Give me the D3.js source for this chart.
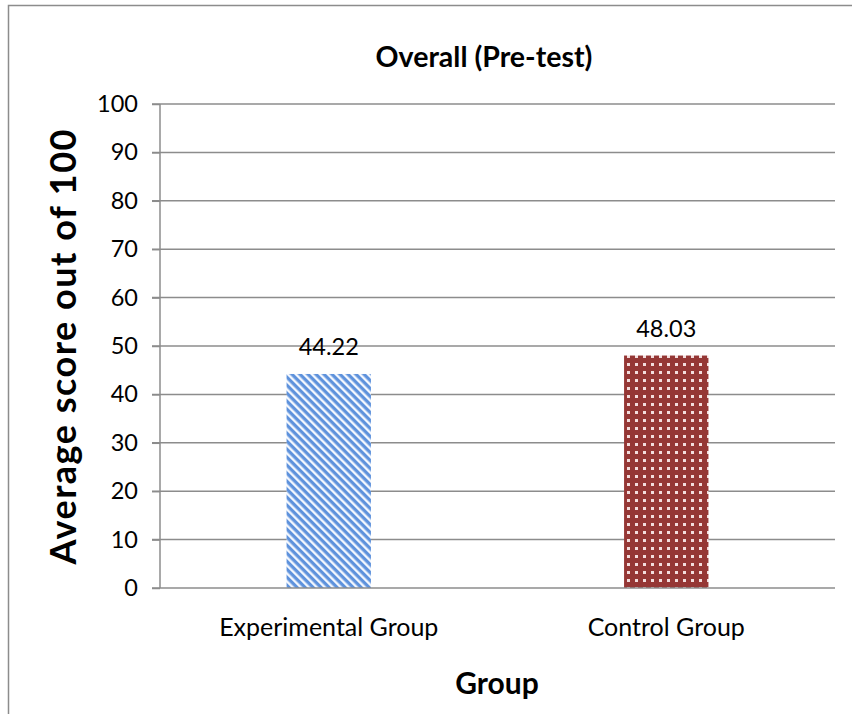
<!DOCTYPE html>
<html><head><meta charset="utf-8">
<script src="https://cdn.jsdelivr.net/npm/d3@7"></script>
<style>body{margin:0;background:#fff}svg{display:block}text{font-family:Lato,"Open Sans",sans-serif;fill:#000}</style>
</head><body><svg id="c" width="852" height="714"></svg>
<script>
const categories = ["Experimental Group", "Control Group"];
const values = [44.22, 48.03];
const valueLabels = ["44.22", "48.03"];
const yTicks = [0, 10, 20, 30, 40, 50, 60, 70, 80, 90, 100];
const title = "Overall (Pre-test)";
const xTitle = "Group";
const yTitle = "Average score out of 100";

const svg = d3.select("#c");
const L = 160, R = 835, T = 104, B = 588;

const defs = svg.append("defs");
const p1 = defs.append("pattern").attr("id","stripes").attr("patternUnits","userSpaceOnUse")
  .attr("width",5.66).attr("height",8).attr("patternTransform","rotate(-45)");
p1.append("rect").attr("width",5.66).attr("height",8).attr("fill","#5e92dc");
p1.append("rect").attr("width",2.4).attr("height",8).attr("fill","#f4f8fe");
const p2 = defs.append("pattern").attr("id","dots").attr("patternUnits","userSpaceOnUse")
  .attr("width",8).attr("height",8);
p2.append("rect").attr("width",8).attr("height",8).attr("fill","#953735");
p2.append("rect").attr("x",3).attr("y",3).attr("width",3).attr("height",3).attr("fill","#f3dede");

svg.append("rect").attr("x",8.5).attr("y",5.5).attr("width",900).attr("height",800)
  .attr("fill","none").attr("stroke","#8c8c8c").attr("stroke-width",1.5);

const y = d3.scaleLinear().domain([0,100]).range([B,T]);
const x = d3.scaleBand().domain(categories).range([L,R]).paddingInner(0.75).paddingOuter(0.375);

const grid = svg.append("g");
grid.selectAll("line").data(yTicks.filter(d=>d>0)).join("line")
  .attr("x1",L-8).attr("x2",R).attr("y1",d=>y(d)).attr("y2",d=>y(d))
  .attr("stroke","#8c8c8c").attr("stroke-width",1.5);

svg.selectAll("rect.bar").data(values).join("rect").attr("class","bar")
  .attr("x",(d,i)=>x(categories[i])).attr("width",x.bandwidth())
  .attr("y",d=>y(d)).attr("height",d=>B-y(d))
  .attr("fill",(d,i)=>i===0?"url(#stripes)":"url(#dots)");

const yAxis = svg.append("g").attr("transform",`translate(${L},0)`)
  .call(d3.axisLeft(y).tickValues(yTicks).tickSize(8).tickPadding(14));
yAxis.select(".domain").remove();
yAxis.selectAll(".tick line").attr("stroke","#8c8c8c").attr("stroke-width",1.5);
yAxis.selectAll("text").attr("font-size",23.5).style("font-family","Lato,sans-serif");
svg.append("line").attr("x1",L).attr("x2",L).attr("y1",T).attr("y2",B).attr("stroke","#8c8c8c").attr("stroke-width",1.5);

const xAxis = svg.append("g").attr("transform",`translate(0,${B})`)
  .call(d3.axisBottom(x).tickSize(0).tickPadding(30));
xAxis.select(".domain").remove();
xAxis.selectAll("text").attr("font-size",25).style("font-family","Lato,sans-serif");
svg.append("line").attr("x1",L-8).attr("x2",R).attr("y1",B).attr("y2",B).attr("stroke","#8c8c8c").attr("stroke-width",1.5);

svg.selectAll("text.lbl").data(values).join("text").attr("class","lbl")
  .attr("x",(d,i)=>x(categories[i])+x.bandwidth()/2).attr("y",d=>y(d)-19)
  .attr("text-anchor","middle").attr("font-size",23.5).text((d,i)=>valueLabels[i]);

svg.append("text").attr("x",484).attr("y",67).attr("text-anchor","middle")
  .attr("font-size",28.5).attr("font-weight","bold").text(title);
svg.append("text").attr("x",497).attr("y",694).attr("text-anchor","middle")
  .attr("font-size",30).attr("font-weight","bold").text(xTitle);
svg.append("text").attr("transform","translate(76,347) rotate(-90)").attr("text-anchor","middle")
  .attr("font-size",36).attr("font-weight","bold")
  .attr("textLength",435).attr("lengthAdjust","spacing").text(yTitle);
</script></body></html>
